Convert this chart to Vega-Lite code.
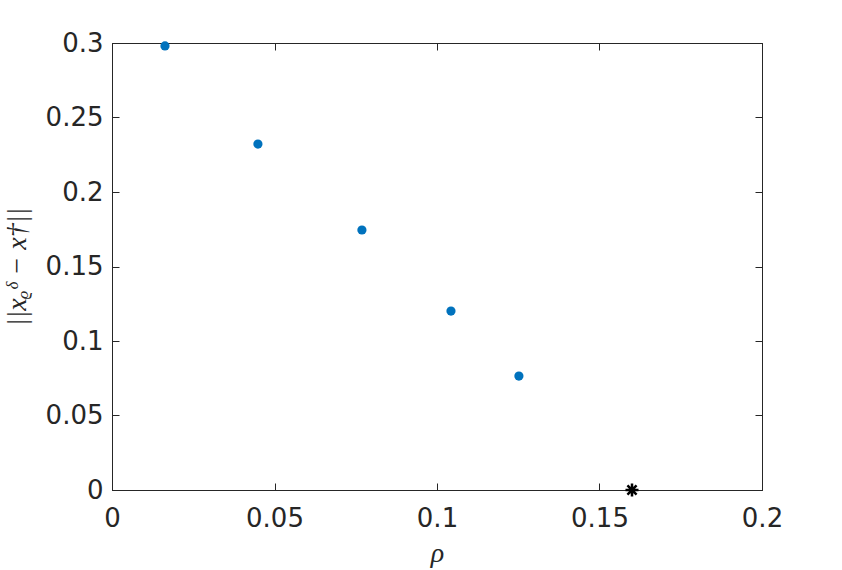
{
  "$schema": "https://vega.github.io/schema/vega-lite/v6.json",
  "autosize": "none",
  "width": 650,
  "height": 447,
  "padding": {"left": 112, "top": 43, "right": 80, "bottom": 80},
  "background": "white",
  "config": {
    "view": {"stroke": "#262626", "strokeWidth": 1},
    "axis": {
      "grid": false,
      "domainColor": "#262626",
      "tickColor": "#262626",
      "tickSize": -7,
      "labelFont": "DejaVu Sans",
      "labelFontSize": 26,
      "labelColor": "#262626",
      "labelFlush": false,
      "labelOverlap": false,
      "titleFont": "Liberation Serif",
      "titleFontStyle": "italic",
      "titleFontWeight": "normal",
      "titleFontSize": 28,
      "titleColor": "#262626"
    }
  },
  "data": {
    "values": [
      {"rho": 0.0163, "err": 0.298, "kind": "dot"},
      {"rho": 0.0449, "err": 0.2322, "kind": "dot"},
      {"rho": 0.0769, "err": 0.1745, "kind": "dot"},
      {"rho": 0.1043, "err": 0.1201, "kind": "dot"},
      {"rho": 0.1252, "err": 0.0765, "kind": "dot"},
      {"rho": 0.16, "err": 0.0, "kind": "star"}
    ]
  },
  "layer": [
    {
      "transform": [{"filter": "datum.kind === 'dot'"}],
      "mark": {"type": "point", "filled": true, "color": "#0072BD", "size": 85, "opacity": 1, "clip": false},
      "encoding": {
        "x": {"field": "rho", "type": "quantitative", "scale": {"domain": [0, 0.2], "nice": false, "zero": false},
          "axis": {"title": "ρ", "values": [0, 0.05, 0.1, 0.15, 0.2], "format": "~g", "labelPadding": 22, "titlePadding": 8}},
        "y": {"field": "err", "type": "quantitative", "scale": {"domain": [0, 0.3], "nice": false, "zero": false},
          "axis": {"title": "||xᵨᵟ − x†||", "values": [0, 0.05, 0.1, 0.15, 0.2, 0.25, 0.3], "format": "~g", "labelPadding": 16, "titlePadding": 14}}
      }
    },
    {
      "transform": [{"filter": "datum.kind === 'star'"}],
      "mark": {"type": "point", "filled": false, "stroke": "black", "strokeWidth": 2.5, "size": 170, "opacity": 1, "clip": false,
        "shape": "M0,-1L0,1M-1,0L1,0M-0.7,-0.7L0.7,0.7M-0.7,0.7L0.7,-0.7"},
      "encoding": {
        "x": {"field": "rho", "type": "quantitative",
          "axis": {"orient": "top", "values": [0, 0.05, 0.1, 0.15, 0.2], "labels": false, "title": null}},
        "y": {"field": "err", "type": "quantitative",
          "axis": {"orient": "right", "values": [0, 0.05, 0.1, 0.15, 0.2, 0.25, 0.3], "labels": false, "title": null}}
      }
    }
  ],
  "resolve": {"axis": {"x": "independent", "y": "independent"}}
}
